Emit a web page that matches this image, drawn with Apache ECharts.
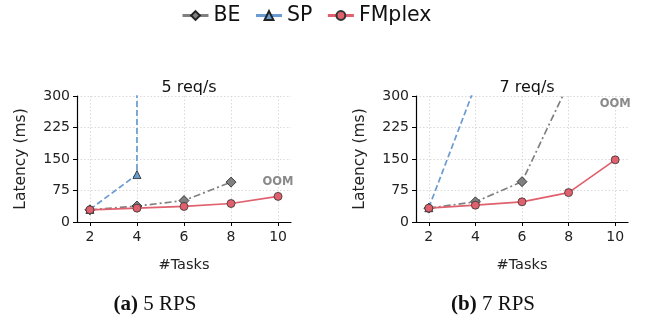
<!DOCTYPE html>
<html><head><meta charset="utf-8">
<script src="https://cdn.jsdelivr.net/npm/echarts@6/dist/echarts.min.js"></script>
<style>html,body{margin:0;padding:0;background:#fff}#c{width:645px;height:322px}</style>
</head><body><div id="c"></div>
<script>
// ---- data ----
const taskTicks = [2, 4, 6, 8, 10];
const yTicks = [0, 75, 150, 225, 300];
const panelTitles = ['5 req/s', '7 req/s'];
const captionTags = ['(a)', '(b)'];
const captionTexts = ['5 RPS', '7 RPS'];
// 5 req/s
const be5 = [[2, 29], [4, 38], [6, 51], [8, 95]];
const sp5 = [[2, 30], [4, 113], [4, 2000]];
const fm5 = [[2, 29], [4, 33], [6, 37], [8, 44], [10, 61]];
const oom5 = [10, 95];
// 7 req/s
const be7 = [[2, 33], [4, 48], [6, 96], [8, 330]];
const sp7 = [[2, 34], [4, 325]];
const fm7 = [[2, 33], [4, 40], [6, 48], [8, 70], [10, 148]];
const oom7 = [10, 280];

const FONT = 'DejaVu Sans';
const C_BE = '#808080', C_SP = '#6a9bd0', C_FM = '#e0606e';
const grids = [
  {left: 77, top: 96, width: 214, height: 126},
  {left: 416, top: 96, width: 212, height: 126}
];
function xAxis(i) {
  return {
    type: 'value', gridIndex: i, min: 1.45, max: 10.55,
    name: '#Tasks', nameLocation: 'middle', nameGap: 36,
    nameTextStyle: {fontFamily: FONT, fontSize: 14.5, color: '#222'},
    axisLine: {show: true, lineStyle: {color: '#000', width: 1.2}},
    axisTick: {show: true, length: 4, customValues: taskTicks, lineStyle: {color: '#000'}},
    axisLabel: {customValues: taskTicks, fontFamily: FONT, fontSize: 14, color: '#222', margin: 8},
    splitLine: {show: true, lineStyle: {color: '#d0d0d0', type: [1.5, 2], width: 0.8}}
  };
}
function yAxis(i) {
  return {
    type: 'value', gridIndex: i, min: 0, max: 300, interval: 75,
    name: 'Latency (ms)', nameLocation: 'middle', nameGap: 48,
    nameTextStyle: {fontFamily: FONT, fontSize: 15.5, color: '#222'},
    axisLine: {show: true, lineStyle: {color: '#000', width: 1.2}},
    axisTick: {show: true, length: 4, lineStyle: {color: '#000'}},
    axisLabel: {fontFamily: FONT, fontSize: 14, color: '#222', margin: 7,
      formatter: v => yTicks.includes(v) ? String(v) : ''},
    splitLine: {show: true, lineStyle: {color: '#d0d0d0', type: [1.5, 2], width: 0.8}}
  };
}
function spData(arr) {
  return arr.map((p, k) => (p[1] > 300 && k > 0) ? {value: p, symbol: 'none'} : p);
}
function seriesFor(i, be, sp, fm, oom) {
  return [
    {name: 'SP', type: 'line', xAxisIndex: i, yAxisIndex: i, data: spData(sp), z: 2,
      symbol: 'triangle', symbolSize: 8, color: C_SP,
      lineStyle: {color: C_SP, width: 1.7, type: [6, 3]},
      itemStyle: {color: C_SP, borderColor: '#222', borderWidth: 0.8}},
    {name: 'BE', type: 'line', xAxisIndex: i, yAxisIndex: i, data: be, z: 3,
      symbol: 'diamond', symbolSize: 10, color: C_BE,
      lineStyle: {color: C_BE, width: 1.7, type: [7, 3, 2, 3]},
      itemStyle: {color: C_BE, borderColor: '#222', borderWidth: 0.8},
      markPoint: {symbol: 'circle', symbolSize: 0, silent: true,
        data: [{coord: oom, label: {show: true, position: 'inside', formatter: 'OOM',
          fontFamily: FONT, fontWeight: 'bold', fontSize: 11.5, color: '#8a8a8a'}}]}},
    {name: 'FMplex', type: 'line', xAxisIndex: i, yAxisIndex: i, data: fm, z: 4,
      symbol: 'circle', symbolSize: 8, color: C_FM,
      lineStyle: {color: C_FM, width: 1.7},
      itemStyle: {color: C_FM, borderColor: '#333', borderWidth: 0.8}}
  ];
}
const titles = [0, 1].map(i => ({
  text: panelTitles[i], left: grids[i].left + grids[i].width / 2, top: 75, textAlign: 'center',
  textStyle: {fontFamily: FONT, fontSize: 16, fontWeight: 'normal', color: '#111'}
}));
const caps = [150, 488].map((cx, i) => ({
  text: '{b|' + captionTags[i] + '} {n|' + captionTexts[i] + '}', left: cx, top: 289, textAlign: 'center',
  textStyle: {fontWeight: 'normal', fontFamily: 'Liberation Serif', fontSize: 21, rich: {
    b: {fontFamily: 'Liberation Serif', fontSize: 21, fontWeight: 'bold', color: '#111'},
    n: {fontFamily: 'Liberation Serif', fontSize: 21, fontWeight: 'normal', color: '#111'}
  }}
}));
const chart = echarts.init(document.getElementById('c'), null, {renderer: 'canvas'});
chart.setOption({
  animation: false,
  backgroundColor: '#fff',
  title: titles.concat(caps),
  legend: {
    top: 0, left: 176, itemWidth: 26, itemHeight: 11, itemGap: 14,
    data: ['BE', 'SP', 'FMplex'],
    lineStyle: {type: 'solid', width: 3},
    textStyle: {fontFamily: FONT, fontSize: 20.5, color: '#111'}
  },
  grid: grids,
  xAxis: [xAxis(0), xAxis(1)],
  yAxis: [yAxis(0), yAxis(1)],
  series: seriesFor(0, be5, sp5, fm5, oom5).concat(seriesFor(1, be7, sp7, fm7, oom7))
});
</script></body></html>
